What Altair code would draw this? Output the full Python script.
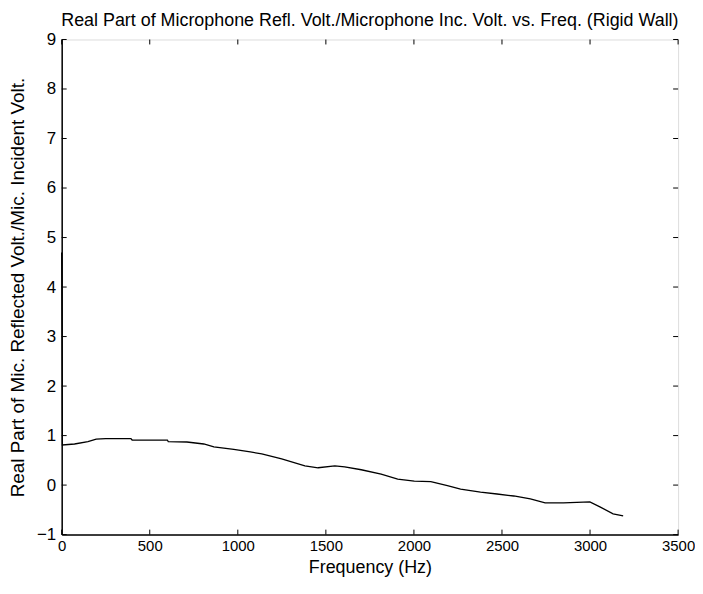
import altair as alt
import pandas as pd

freq = [0, 4, 73, 149, 196, 250, 393, 400, 600, 605, 711, 807, 864, 977, 1071, 1136, 1249, 1381, 1456, 1551, 1607, 1701, 1814, 1908, 2002, 2096, 2190, 2265, 2378, 2472, 2567, 2661, 2745, 2849, 2999, 3056, 3131, 3188]
real_part = [4.7, 0.81, 0.83, 0.88, 0.93, 0.94, 0.94, 0.91, 0.91, 0.88, 0.87, 0.83, 0.77, 0.72, 0.67, 0.63, 0.53, 0.39, 0.35, 0.39, 0.37, 0.31, 0.22, 0.12, 0.08, 0.07, -0.01, -0.08, -0.14, -0.18, -0.22, -0.28, -0.36, -0.36, -0.34, -0.44, -0.58, -0.62]

x_ticks = [0, 500, 1000, 1500, 2000, 2500, 3000, 3500]
y_ticks = [-1, 0, 1, 2, 3, 4, 5, 6, 7, 8, 9]

W, H = 620, 498
FONT = "Liberation Sans"

df = pd.DataFrame({"f": freq, "v": real_part})
xt = pd.DataFrame({"f": x_ticks})
yt = pd.DataFrame({"v": y_ticks})

xs = alt.Scale(domain=[0, 3500], nice=False, zero=False)
ys = alt.Scale(domain=[-1, 9], nice=False, zero=False)

line = alt.Chart(df).mark_line(color="black", strokeWidth=1.3).encode(
    x=alt.X("f:Q", scale=xs, title="Frequency (Hz)",
            axis=alt.Axis(values=x_ticks, format="d", ticks=False, grid=False, labelPadding=4,
                          domainColor="black", domainWidth=1.5, labelColor="black",
                          titleColor="black", labelFont=FONT, titleFont=FONT,
                          labelFontSize=15, titleFontSize=18, titleFontWeight="normal",
                          titlePadding=5, labelFlush=False)),
    y=alt.Y("v:Q", scale=ys, title="Real Part of Mic. Reflected Volt./Mic. Incident Volt.",
            axis=alt.Axis(values=y_ticks, format="d", ticks=False, grid=False, labelPadding=6,
                          domainColor="black", domainWidth=1.5, labelColor="black",
                          titleColor="black", labelFont=FONT, titleFont=FONT,
                          labelFontSize=17, titleFontSize=19, titleFontWeight="normal",
                          titlePadding=9, labelFlush=False)),
)

tick_len = 5
bottom_ticks = alt.Chart(xt).mark_rule(color="black").encode(
    x=alt.X("f:Q", scale=xs), y=alt.value(H), y2=alt.value(H - tick_len))
top_ticks = alt.Chart(xt).mark_rule(color="black").encode(
    x=alt.X("f:Q", scale=xs), y=alt.value(0), y2=alt.value(tick_len))
left_ticks = alt.Chart(yt).mark_rule(color="black").encode(
    y=alt.Y("v:Q", scale=ys), x=alt.value(0), x2=alt.value(tick_len))
right_ticks = alt.Chart(yt).mark_rule(color="black").encode(
    y=alt.Y("v:Q", scale=ys), x=alt.value(W), x2=alt.value(W - tick_len))

chart = alt.layer(line, bottom_ticks, top_ticks, left_ticks, right_ticks).properties(
    width=W, height=H,
    title=alt.TitleParams("Real Part of Microphone Refl. Volt./Microphone Inc. Volt. vs. Freq. (Rigid Wall)",
                          font=FONT, fontSize=18, fontWeight="normal", color="black",
                          anchor="middle", offset=1),
    autosize=alt.AutoSizeParams(type="none"),
    padding={"left": 54, "top": 30, "right": 17, "bottom": 46},
).configure_view(stroke="black", strokeWidth=1.5).configure(background="white")

chart.save("out.html", embed_options={"renderer": "svg", "actions": False})
